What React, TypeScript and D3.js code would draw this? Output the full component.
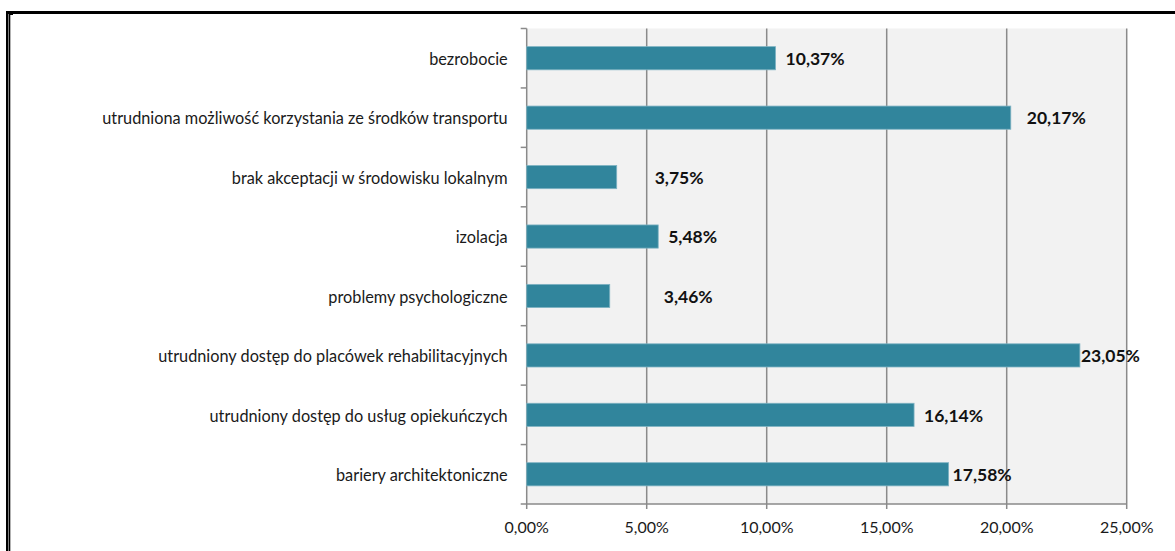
import * as d3 from "d3";
import { useRef, useEffect } from "react";

const categories = [
  "bezrobocie",
  "utrudniona możliwość korzystania ze środków transportu",
  "brak akceptacji w środowisku lokalnym",
  "izolacja",
  "problemy psychologiczne",
  "utrudniony dostęp do placówek rehabilitacyjnych",
  "utrudniony dostęp do usług opiekuńczych",
  "bariery architektoniczne",
];

const values = [10.37, 20.17, 3.75, 5.48, 3.46, 23.05, 16.14, 17.58];

const xTicks = [0, 5, 10, 15, 20, 25];

// excel put the value labels at uneven distances from the bar ends
const labelDx = [10, 16, 38, 10, 54, 1, 10, 4];

const fmt = (v: number) => v.toFixed(2).replace(".", ",") + "%";

const App = () => {
  const container = useRef<HTMLDivElement>(null);

  useEffect(() => {
    createChart();
  });

  const createChart = () => {
    const node = container.current;
    const dims = { width: 1175, height: 551 };
    const plot = { l: 526.7, r: 1126.7, t: 28.5, b: 504 };
    const font = "Lato, 'Open Sans', sans-serif";

    const svg = d3
      .select(node)
      .selectAll("svg")
      .data([0])
      .join("svg")
      .attr("width", dims.width)
      .attr("height", dims.height)
      .style("position", "absolute")
      .style("left", 0)
      .style("top", 0)
      .style("background", "#fff");

    const xScale = d3.scaleLinear().domain([0, 25]).range([plot.l, plot.r]);

    const yScale = d3
      .scaleBand()
      .domain(categories)
      .range([plot.t, plot.b])
      .paddingInner(0.61)
      .paddingOuter(0.305);

    // outer frame (double line on the left, thick top)
    const frame = [
      { x: 6, y: 11, w: 1169, h: 3 },
      { x: 6, y: 11, w: 2.5, h: 540 },
      { x: 9, y: 14, w: 1.3, h: 537 },
      { x: 9, y: 14, w: 4, h: 1 },
    ];
    svg
      .selectAll(".frame")
      .data(frame)
      .join("rect")
      .attr("class", "frame")
      .attr("x", (d) => d.x)
      .attr("y", (d) => d.y)
      .attr("width", (d) => d.w)
      .attr("height", (d) => d.h)
      .attr("fill", "#000");

    svg
      .selectAll(".plot-bg")
      .data([0])
      .join("rect")
      .attr("class", "plot-bg")
      .attr("x", plot.l)
      .attr("y", plot.t)
      .attr("width", plot.r - plot.l)
      .attr("height", plot.b - plot.t)
      .attr("fill", "#f2f2f2");

    // vertical gridlines
    svg
      .selectAll(".grid")
      .data(xTicks)
      .join("line")
      .attr("class", "grid")
      .attr("x1", (d) => xScale(d))
      .attr("x2", (d) => xScale(d))
      .attr("y1", plot.t)
      .attr("y2", plot.b + 5)
      .attr("stroke", "#8a8a8a")
      .attr("stroke-width", 1.5);

    // bottom axis line
    svg
      .selectAll(".xaxis-line")
      .data([0])
      .join("line")
      .attr("class", "xaxis-line")
      .attr("x1", plot.l)
      .attr("x2", plot.r)
      .attr("y1", plot.b)
      .attr("y2", plot.b)
      .attr("stroke", "#8a8a8a")
      .attr("stroke-width", 1.5);

    // y ticks on category boundaries
    const step = yScale.step();
    const boundaries = d3.range(categories.length + 1).map((i) => plot.t + i * step);
    svg
      .selectAll(".ytick")
      .data(boundaries)
      .join("line")
      .attr("class", "ytick")
      .attr("x1", plot.l - 6)
      .attr("x2", plot.l)
      .attr("y1", (d) => d)
      .attr("y2", (d) => d)
      .attr("stroke", "#8a8a8a")
      .attr("stroke-width", 1.5);

    svg
      .selectAll(".bar")
      .data(values)
      .join("rect")
      .attr("class", "bar")
      .attr("x", xScale(0))
      .attr("y", (d, i) => yScale(categories[i]) as number)
      .attr("width", (d) => xScale(d) - xScale(0))
      .attr("height", yScale.bandwidth())
      .attr("fill", "#31859c")
      .attr("stroke", "#7fb3c3")
      .attr("stroke-width", 0.8);

    svg
      .selectAll(".val-label")
      .data(values)
      .join("text")
      .attr("class", "val-label")
      .attr("x", (d, i) => xScale(d) + labelDx[i])
      .attr("y", (d, i) => (yScale(categories[i]) as number) + yScale.bandwidth() / 2 + 0.5)
      .attr("dy", "0.36em")
      .attr("font-family", font)
      .attr("font-weight", "bold")
      .attr("font-size", 17.5)
      .attr("fill", "#111")
      .text((d) => fmt(d));

    svg
      .selectAll(".cat-label")
      .data(categories)
      .join("text")
      .attr("class", "cat-label")
      .attr("x", plot.l - 19)
      .attr("y", (d) => (yScale(d) as number) + yScale.bandwidth() / 2 + 0.8)
      .attr("dy", "0.36em")
      .attr("text-anchor", "end")
      .attr("font-family", font)
      .attr("font-size", 16.3)
      .attr("fill", "#1a1a1a")
      .text((d) => d);

    svg
      .selectAll(".xtick-label")
      .data(xTicks)
      .join("text")
      .attr("class", "xtick-label")
      .attr("x", (d) => xScale(d))
      .attr("y", plot.b + 23)
      .attr("dy", "0.36em")
      .attr("text-anchor", "middle")
      .attr("font-family", font)
      .attr("font-size", 16)
      .attr("fill", "#1a1a1a")
      .text((d) => fmt(d));

    return;
  };

  return <div ref={container}></div>;
};

export default App;
